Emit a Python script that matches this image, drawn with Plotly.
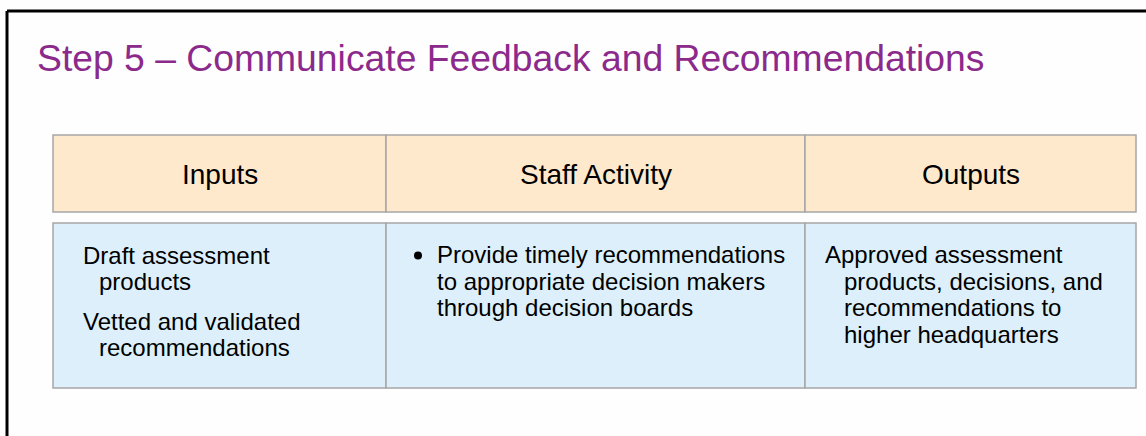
import plotly.graph_objects as go

# ---- content ----
title_text = "Step 5 \u2013 Communicate Feedback and Recommendations"
column_headers = ["Inputs", "Staff Activity", "Outputs"]
inputs_items = [["Draft assessment", "products"], ["Vetted and validated", "recommendations"]]
activity_items = [["Provide timely recommendations", "to appropriate decision makers", "through decision boards"]]
outputs_items = [["Approved assessment", "products, decisions, and", "recommendations to", "higher headquarters"]]

# ---- layout constants (pixels) ----
W, H = 1146, 436
FONT = "Arial, 'Liberation Sans', sans-serif"
col_edges = [53, 386, 805, 1136]
head_y = (135, 212)
body_y = (223, 388)
head_fill = "#FFE9CC"
body_fill = "#DCEFFB"
grid_col = "#A6A6A6"
title_col = "#8C2A8C"
body_size = 24
head_size = 28
line_h = 26.5
para_gap = 39.5
K = 0.36  # baseline -> middle offset factor

fig = go.Figure()
shapes = []
annos = []

# outer frame (left and top edges visible)
shapes.append(dict(type="line", x0=7, x1=7, y0=11, y1=H + 5, line=dict(color="black", width=3)))
shapes.append(dict(type="line", x0=7, x1=W + 5, y0=11, y1=11, line=dict(color="black", width=3)))

for (y0, y1), fill in [(head_y, head_fill), (body_y, body_fill)]:
    for i in range(3):
        shapes.append(dict(type="rect", x0=col_edges[i], x1=col_edges[i + 1], y0=y0, y1=y1,
                           fillcolor=fill, line=dict(color=grid_col, width=1.5), layer="below"))

def txt(x, baseline, s, size, color="black", xanchor="left"):
    annos.append(dict(x=x, y=baseline - K * size, text=s, showarrow=False, xanchor=xanchor,
                      yanchor="middle", font=dict(family=FONT, size=size, color=color),
                      xref="x", yref="y", borderpad=0))

# title
txt(36, 71, title_text, 37.3, title_col)

# headers
for i, h in enumerate(column_headers):
    cx = (col_edges[i] + col_edges[i + 1]) / 2
    txt(cx, 185, h, head_size, xanchor="center")

def paragraphs(items, x_first, x_cont, base0):
    b = base0
    for item in items:
        for j, line in enumerate(item):
            txt(x_first if j == 0 else x_cont, b, line, body_size)
            if j < len(item) - 1:
                b += line_h
        b += para_gap

paragraphs(inputs_items, 82, 98, 264)
paragraphs(activity_items, 436, 436, 263.5)
paragraphs(outputs_items, 824, 843, 263.5)

# bullet
fig.add_trace(go.Scatter(x=[418], y=[255.5], mode="markers",
                         marker=dict(size=8, color="black"), hoverinfo="skip", showlegend=False))

fig.update_layout(
    width=W, height=H, margin=dict(l=0, r=0, t=0, b=0),
    paper_bgcolor="#FEFEFE", plot_bgcolor="#FEFEFE",
    xaxis=dict(range=[0, W], visible=False, fixedrange=True),
    yaxis=dict(range=[H, 0], visible=False, fixedrange=True),
    shapes=shapes, annotations=annos, showlegend=False,
)
fig.write_html("out.html", config={"displayModeBar": False},
               post_script="document.body.style.margin='0';document.body.style.overflow='hidden';")
